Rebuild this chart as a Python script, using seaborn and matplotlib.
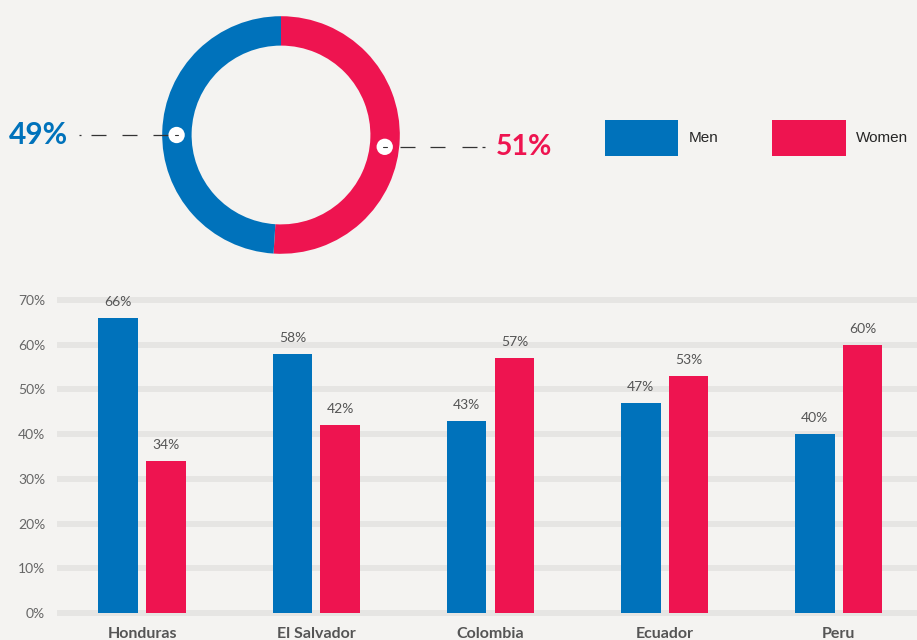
import numpy as np
import pandas as pd
import seaborn as sns
import matplotlib.pyplot as plt
from matplotlib.patches import Circle

countries = ["Honduras", "El Salvador", "Colombia", "Ecuador", "Peru"]
men = [66, 58, 43, 47, 40]
women = [34, 42, 57, 53, 60]
total_men = 49
total_women = 51

blue = "#0072bb"
red = "#ee1450"
bg = "#f4f3f1"

sns.set_theme(style="white")
plt.rcParams['font.family'] = ['Lato', 'DejaVu Sans']
plt.rcParams['lines.scale_dashes'] = False

fig = plt.figure(figsize=(9.17, 6.4), dpi=100, facecolor=bg)

# donut
pax = fig.add_axes([161 / 917, 1 - 255 / 640, 240 / 917, 240 / 640])
pax.pie([total_women, total_men], colors=[red, blue], startangle=90, counterclock=False,
        radius=0.99, wedgeprops=dict(width=0.245, linewidth=0))
pax.set_xlim(-1, 1)
pax.set_ylim(-1, 1)
pax.set_aspect('equal')
pax.axis('off')

r_mid = 0.87
left_pt = (-r_mid, 0.0)
right_pt = (r_mid * np.cos(np.radians(-6.5)), r_mid * np.sin(np.radians(-6.5)))

px = 0.72  # points per pixel
pax.plot([-0.88, -1.68], [0, 0], color="#333333", lw=0.9, clip_on=False, zorder=3,
         dashes=[d * px for d in (22, 16, 15, 16, 15, 10, 3, 40)])
pax.plot([0.99, 1.70], [right_pt[1], right_pt[1]], color="#333333", lw=0.9,
         clip_on=False, zorder=3, dashes=[d * px for d in (15, 15, 15, 17, 15, 5, 3, 40)])
for p in (left_pt, right_pt):
    pax.add_patch(Circle(p, 0.068, facecolor="white", edgecolor="none", zorder=4))
    pax.plot([p[0] - 0.015, p[0] + 0.015], [p[1], p[1]], color="#333333", lw=0.8, zorder=5)

pax.text(-1.775, 0.0, f"{total_men}%", color=blue, fontsize=21.5, fontweight='bold',
         ha='right', va='center', clip_on=False)
pax.text(1.79, right_pt[1], f"{total_women}%", color=red, fontsize=20.5, fontweight='bold',
         ha='left', va='center', clip_on=False)

# bars
df = pd.DataFrame({"country": countries * 2,
                   "share": men + women,
                   "gender": ["Men"] * len(countries) + ["Women"] * len(countries)})

ax = fig.add_axes([57 / 917, 1 - 617.5 / 640, 1 - 57 / 917, (617.5 - 291) / 640])
ax.set_facecolor(bg)
sns.barplot(data=df, x="country", y="share", hue="gender", palette=[blue, red],
            saturation=1, width=0.55, gap=0.17, errorbar=None, ax=ax, zorder=3,
            linewidth=0, edgecolor="none")

for cont in ax.containers:
    ax.bar_label(cont, labels=[f"{v:.0f}%" for v in cont.datavalues], padding=7,
                 fontsize=10, color="#555555")

ax.set_ylim(-1, 72)
ax.set_xlim(-0.49, 4.45)
ax.set_yticks(range(0, 80, 10))
ax.set_yticklabels([f"{t}%" for t in range(0, 80, 10)])
for t in range(0, 80, 10):
    ax.axhline(t, color="#e6e5e3", lw=4.3, zorder=1)
ax.tick_params(axis='y', length=0, pad=8.5, labelsize=10, labelcolor="#666666")
ax.tick_params(axis='x', length=0, pad=7, labelsize=11.5, labelcolor="#555555")
for lab in ax.get_xticklabels():
    lab.set_fontweight('bold')
ax.set_xlabel("")
ax.set_ylabel("")
sns.despine(ax=ax, left=True, bottom=True)

sns.move_legend(ax, loc="center left", bbox_to_anchor=(605 / 917, 1 - 138 / 640),
                bbox_transform=fig.transFigure, ncol=2, title=None, frameon=False,
                handlelength=4.8, handleheight=3.2, handletextpad=0.7, columnspacing=3.5,
                borderpad=0, borderaxespad=0,
                prop={'family': ['Liberation Sans', 'DejaVu Sans'], 'size': 11})

fig.savefig("out.png", dpi=100, facecolor=bg)
